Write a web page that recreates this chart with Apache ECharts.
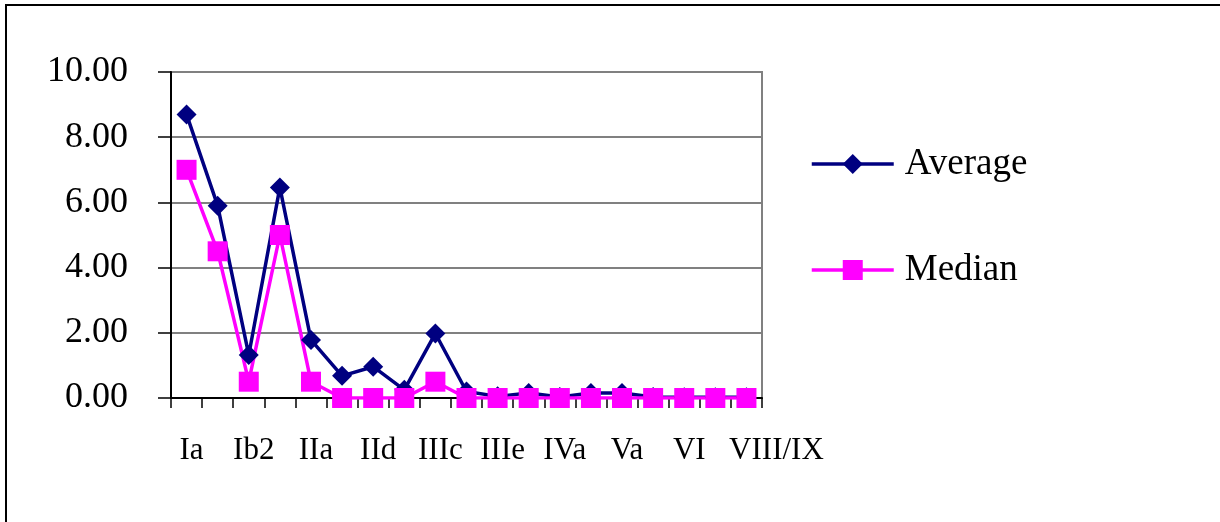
<!DOCTYPE html>
<html>
<head>
<meta charset="utf-8">
<script src="https://cdn.jsdelivr.net/npm/echarts@6/dist/echarts.min.js"></script>
<style>
html,body{margin:0;padding:0;background:#fff;}
#chart{width:1220px;height:522px;}
</style>
</head>
<body>
<div id="chart"></div>
<script>
var categories = ['Ia','Ib1','Ib2','Ic','IIa','IIb','IId','IIIa','IIIc','IIId','IIIe','IIIf','IVa','IVb','Va','Vb','VI','VII','VIII/IX'];
var averageValues = [8.70, 5.90, 1.32, 6.46, 1.78, 0.68, 0.96, 0.25, 1.98, 0.20, 0.05, 0.15, 0.03, 0.15, 0.15, 0.03, 0.02, 0.02, 0.02];
var medianValues = [7.0, 4.5, 0.5, 5.0, 0.5, 0, 0, 0, 0.5, 0, 0, 0, 0, 0, 0, 0, 0, 0, 0];
var yTicks = [0, 2, 4, 6, 8, 10];

var FONT = "'Liberation Serif', 'Times New Roman', serif";
var lastIdx = categories.length - 1;
var chart = echarts.init(document.getElementById('chart'), null, {renderer: 'canvas'});
chart.setOption({
  animation: false,
  backgroundColor: '#fff',
  graphic: [{
    type: 'rect', z: 0,
    shape: {x: 6, y: 5, width: 1260, height: 600},
    style: {fill: 'none', stroke: '#000', lineWidth: 2}
  }],
  grid: {left: 171, right: 458, top: 72, bottom: 124, show: true, borderColor: '#808080', borderWidth: 2, backgroundColor: 'transparent'},
  legend: {
    orient: 'vertical', left: 805, top: 139,
    itemWidth: 82, itemHeight: 25, itemGap: 66,
    lineStyle: {width: 3.5},
    textStyle: {fontFamily: FONT, fontSize: 37, color: '#000', lineHeight: 40, padding: [0, 0, 0, 6]},
    data: ['Average', 'Median']
  },
  xAxis: [{
    type: 'category', data: categories, boundaryGap: true,
    axisLine: {lineStyle: {color: '#000', width: 2}},
    axisTick: {show: true, length: 10, interval: 0, lineStyle: {color: '#000', width: 1.5}},
    axisLabel: {
      interval: function (i) { return i % 2 === 0 && i < lastIdx; },
      fontFamily: FONT, fontSize: 31, color: '#000', margin: 37, padding: [0, 0, 0, 10], hideOverlap: false
    },
    splitLine: {show: false}
  }, {
    type: 'category', data: categories, boundaryGap: true, position: 'bottom', gridIndex: 0,
    axisLine: {show: false}, axisTick: {show: false}, splitLine: {show: false},
    axisLabel: {
      interval: function (i) { return i === lastIdx; },
      fontFamily: FONT, fontSize: 31, color: '#000', margin: 37, padding: [0, 0, 0, 60], hideOverlap: false
    }
  }],
  yAxis: {
    type: 'value', min: yTicks[0], max: yTicks[yTicks.length - 1], interval: 2,
    axisLine: {show: true, lineStyle: {color: '#000', width: 2}},
    axisTick: {show: true, length: 13, lineStyle: {color: '#000', width: 1.5}},
    axisLabel: {fontFamily: FONT, fontSize: 36, color: '#000', margin: 43, formatter: function(v){return v.toFixed(2);}},
    splitLine: {show: true, lineStyle: {color: '#808080', width: 2}}
  },
  series: [
    {name: 'Average', type: 'line', xAxisIndex: 0, data: averageValues, symbol: 'diamond', symbolSize: 20,
     itemStyle: {color: '#000080'}, lineStyle: {color: '#000080', width: 3.5}},
    {name: 'Median', type: 'line', xAxisIndex: 0, data: medianValues, symbol: 'rect', symbolSize: 20,
     itemStyle: {color: '#FF00FF'}, lineStyle: {color: '#FF00FF', width: 3.5}}
  ]
});
</script>
</body>
</html>
